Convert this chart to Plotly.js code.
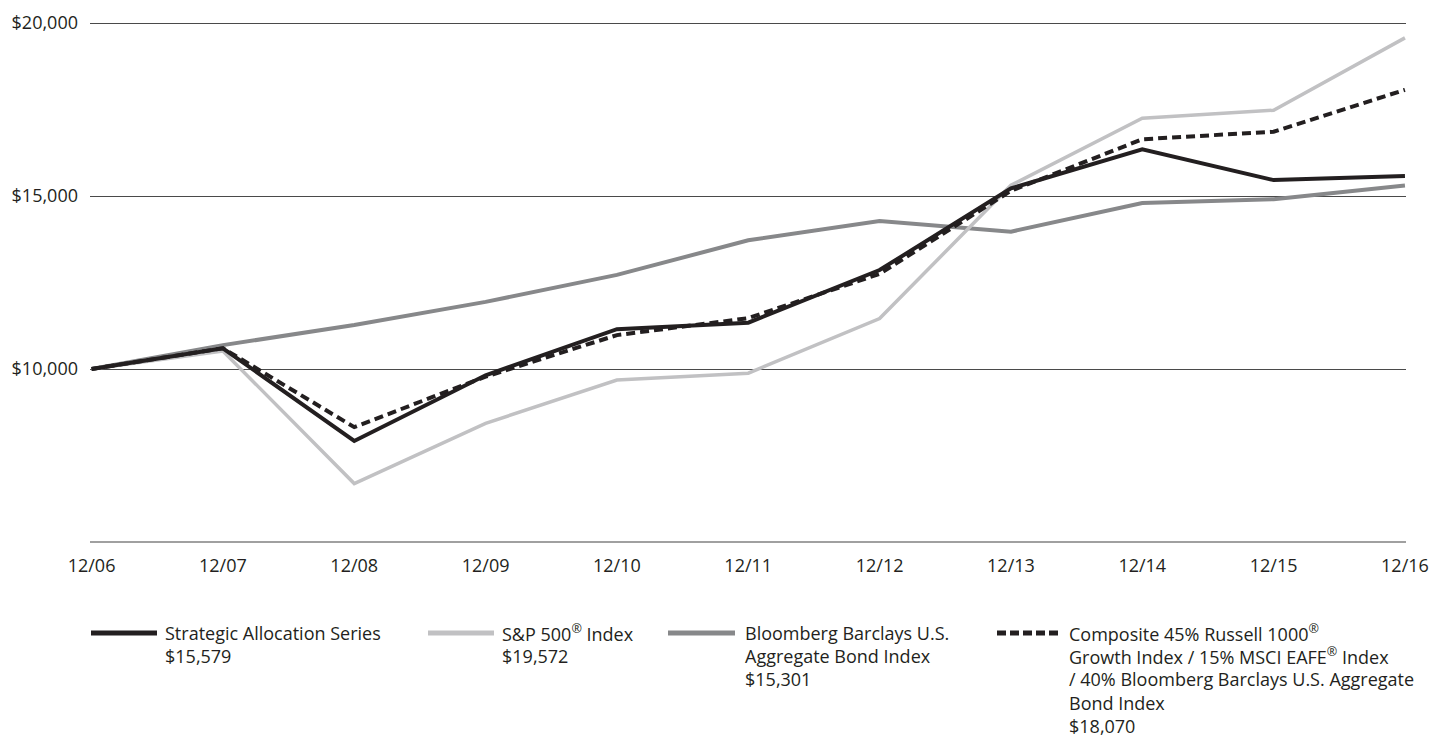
<!DOCTYPE html>
<html>
<head>
<meta charset="utf-8">
<script src="https://cdn.plot.ly/plotly-3.0.1.min.js"></script>
<style>
html,body{margin:0;padding:0;background:#fff;}
#chart{width:1433px;height:740px;}
</style>
</head>
<body>
<div id="chart"></div>
<script>
const categories = ["12/06","12/07","12/08","12/09","12/10","12/11","12/12","12/13","12/14","12/15","12/16"];
const strategic = [10000,10600,7920,9820,11150,11340,12860,15220,16350,15460,15579];
const sp500     = [10000,10520,6690,8430,9680,9880,11460,15310,17250,17480,19572];
const bond      = [10000,10690,11270,11940,12720,13720,14280,13970,14800,14910,15301];
const composite = [10000,10600,8320,9780,10980,11470,12750,15150,16640,16860,18070];

const legendLines = [
  ["Strategic Allocation Series", "$15,579"],
  ["S&amp;P 500<sup>®</sup> Index", "$19,572"],
  ["Bloomberg Barclays U.S.", "Aggregate Bond Index", "$15,301"],
  ["Composite 45% Russell 1000<sup>®</sup>", "Growth Index / 15% MSCI EAFE<sup>®</sup> Index",
   "/ 40% Bloomberg Barclays U.S. Aggregate", "Bond Index", "$18,070"]
];
const yTickVals = [5000,10000,15000,20000];
const yTickText = ["","$10,000","$15,000","$20,000"];

const W = 1433, H = 740;
const M = {l:90, r:27, t:22, b:198};
const PW = W - M.l - M.r, PH = H - M.t - M.b;
const px = x => (x - M.l) / PW;
const py = y => (H - M.b - y) / PH;

const FONT = "'Open Sans', 'DejaVu Sans', sans-serif";
const INK = "#231f20";

const styles = [
  {data: strategic, color: INK, width: 4, dash: "solid"},
  {data: sp500, color: "#c1c1c3", width: 3.5, dash: "solid"},
  {data: bond, color: "#87888a", width: 4, dash: "solid"},
  {data: composite, color: INK, width: 4, dash: "9px,5px"}
];
const order = [2,1,3,0];
const xIdx = categories.map((c,i)=>i);
const traces = order.map(i => ({
  type: "scatter", mode: "lines", x: xIdx, y: styles[i].data,
  line: {color: styles[i].color, width: styles[i].width, dash: styles[i].dash},
  showlegend: false, hoverinfo: "skip"
}));

// legend
const legendX = [[91,157,165],[428,494,502],[668,735,745],[997,1062,1069]];
const shapes = [];
const annotations = [];
styles.forEach((s,i)=>{
  const [x0,x1,tx] = legendX[i];
  shapes.push({type:"line", xref:"paper", yref:"paper", x0:px(x0), x1:px(x1), y0:py(633), y1:py(633),
    line:{color:s.color, width:5, dash: i===3 ? "9px,4px" : "solid"}});
  legendLines[i].forEach((t,k)=>{
    annotations.push({xref:"paper", yref:"paper", x:px(tx-2), y:py(633 + 23.2*k), xanchor:"left", yanchor:"middle",
      align:"left", showarrow:false, text: t,
      font:{family:FONT, size:18, color:INK}});
  });
});

const layout = {
  width: W, height: H,
  margin: M,
  paper_bgcolor: "#fff", plot_bgcolor: "#fff",
  showlegend: false,
  xaxis: {
    range: [-0.012, 10.008], tickvals: xIdx, ticktext: categories,
    showgrid: false, zeroline: false, showline: false, ticks: "",
    tickfont: {family: FONT, size: 18, color: INK},
    ticklabelstandoff: 11, fixedrange: true
  },
  yaxis: {
    range: [5000, 20030], tickvals: yTickVals, ticktext: yTickText,
    showgrid: true, gridcolor: "#4a4a4a", gridwidth: 1,
    zeroline: false, showline: false, ticks: "",
    tickfont: {family: FONT, size: 18, color: INK},
    ticklabelstandoff: 11, fixedrange: true
  },
  shapes: [{type:"line", xref:"paper", yref:"paper", x0:0, x1:1, y0:0, y1:0, line:{color:"#808080", width:1.5}}].concat(shapes),
  annotations: annotations
};

Plotly.newPlot("chart", traces, layout, {displayModeBar:false, staticPlot:true});
</script>
</body>
</html>
